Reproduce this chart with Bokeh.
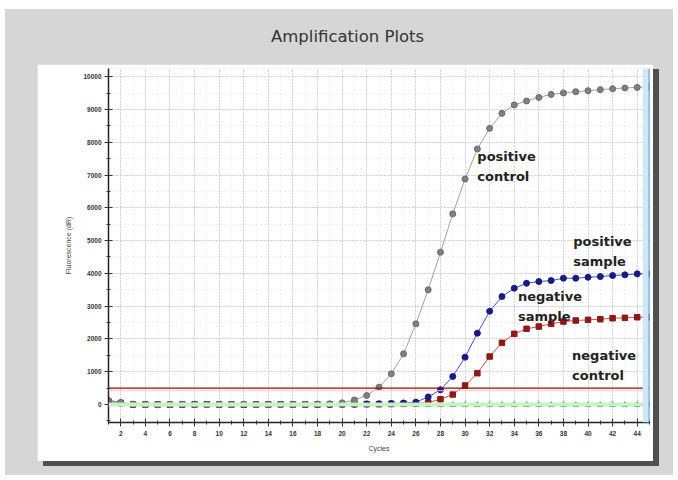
from bokeh.plotting import figure
from bokeh.models import Range1d, SingleIntervalTicker, Span, Label, Div
from bokeh.layouts import column
from bokeh.embed import file_html
from bokeh.resources import INLINE

cycles = list(range(1, 46))
positive_control = [120, 60, 10, 0, -5, 0, 5, 0, -5, 0, 0, 5, 0, -5, 0, 0, 5, 10, 20, 50,
                    137, 274, 527, 936, 1545, 2460, 3497, 4644, 5815, 6881, 7795, 8424, 8881,
                    9137, 9259, 9369, 9460, 9503, 9543, 9573, 9604, 9634, 9655, 9674, 9704]
positive_sample = [100, 50, 0, 0, -5, 0, 0, 5, 0, -5, 0, 0, 5, 0, 0, -5, 0, 5, 0, 10,
                   10, 15, 20, 30, 45, 70, 230, 448, 854, 1442, 2174, 2845, 3293,
                   3546, 3698, 3750, 3780, 3851, 3851, 3881, 3902, 3933, 3954, 3985, 3985]
negative_sample = [90, 40, 0, 0, 0, -5, 0, 0, 5, 0, 0, -5, 0, 0, 5, 0, 0, 0, 5, 5,
                   5, 10, 10, 15, 20, 30, 60, 160, 305, 579, 954, 1463, 1881,
                   2155, 2308, 2378, 2460, 2530, 2561, 2582, 2601, 2631, 2643, 2662, 2662]
negative_control = [150, 40, 0, -5, -5, -10, -5, -10, -5, -10, -10, -5, -10, -10, -5, -10, -10, -10, -5, -10,
                    -10, -10, -10, -10, -10, -10, -15, -15, -15, -15, -15, -15, -15,
                    -15, -15, -15, -15, -15, -15, -15, -15, -15, -15, -15, -15]
threshold = 500
x_ticks_interval = 2
y_ticks_interval = 1000
title_text = "Amplification Plots"

GRAY = "#d6d6d6"
SHADOW = "#505050"

p = figure(width=616, height=397, output_backend="svg", toolbar_location=None,
           x_range=Range1d(1, 45), y_range=Range1d(-550, 10250),
           min_border_left=71, min_border_right=4, min_border_top=4, min_border_bottom=39,
           margin=(0, 0, 0, 32), styles={"box-shadow": "6px 5px 0px 0px " + SHADOW})
p.border_fill_color = "white"
p.background_fill_color = "white"
p.outline_line_color = None

# axes
p.xaxis.ticker = SingleIntervalTicker(interval=x_ticks_interval, num_minor_ticks=2)
p.yaxis.ticker = SingleIntervalTicker(interval=y_ticks_interval, num_minor_ticks=2)
for ax in (p.xaxis[0], p.yaxis[0]):
    ax.axis_line_color = "#222222"
    ax.axis_line_width = 1.5
    ax.major_tick_in = 4
    ax.major_tick_out = 4
    ax.minor_tick_in = 2
    ax.minor_tick_out = 2
    ax.major_tick_line_color = "#333333"
    ax.minor_tick_line_color = "#333333"
    ax.major_label_text_font = "Liberation Sans"
    ax.major_label_text_font_size = "6.5px"
    ax.major_label_text_font_style = "bold"
    ax.major_label_text_color = "#333333"
    ax.axis_label_text_font = "Liberation Sans"
    ax.axis_label_text_font_size = "7px"
    ax.axis_label_text_font_style = "normal"
    ax.axis_label_text_color = "#444444"
p.xaxis.axis_label = "Cycles"
p.yaxis.axis_label = "Fluorescence (dR)"
p.xaxis.major_label_standoff = 4
p.yaxis.major_label_standoff = 3
p.xaxis.axis_label_standoff = 6
p.yaxis.axis_label_standoff = 8

p.xgrid.grid_line_color = "#b5b5b5"
p.xgrid.grid_line_dash = "1 2"
p.ygrid.grid_line_color = "#b5b5b5"
p.ygrid.grid_line_dash = "1 2"
p.xgrid.minor_grid_line_color = "#e0e0e0"
p.xgrid.minor_grid_line_dash = "1 3"
p.ygrid.minor_grid_line_color = "#e0e0e0"
p.ygrid.minor_grid_line_dash = "1 3"

# reference lines
p.add_layout(Span(location=0, dimension="width", line_color="#c6f2c6", line_width=4))
p.add_layout(Span(location=420, dimension="width", line_color="#f5c8c8", line_width=1))
p.add_layout(Span(location=threshold, dimension="width", line_color="#8b1010", line_width=1.3))
p.add_layout(Span(location=44.7, dimension="height", line_color="#cfe8f8", line_width=6))
p.add_layout(Span(location=45, dimension="height", line_color="#3a8fd8", line_width=1.8))

# series
p.line(cycles, negative_control, line_color="#44cc44", line_width=1)
p.scatter(cycles, negative_control, marker="triangle", size=5.5, fill_color="#2e8b2e", line_color="#2e8b2e")
p.line(cycles, negative_sample, line_color="#e04a4a", line_width=1)
p.scatter(cycles, negative_sample, marker="square", size=5.5, fill_color="#8b1a1a", line_color="#8b1a1a")
p.line(cycles, positive_sample, line_color="#4a4ae0", line_width=1)
p.scatter(cycles, positive_sample, marker="circle", size=6, fill_color="#1a1a80", line_color="#1a1a80")
p.line(cycles, positive_control, line_color="#a0a0a0", line_width=1)
p.scatter(cycles, positive_control, marker="circle", size=6, fill_color="#808080", line_color="#6a6a6a")

# annotation labels
lab = dict(text_font="DejaVu Sans", text_font_size="13px", text_font_style="bold",
           text_color="#222222", text_baseline="middle", text_align="left")
for x, y, t in [(31.0, 7561, "positive"), (31.0, 6951, "control"),
                (38.8, 4970, "positive"), (38.8, 4360, "sample"),
                (34.3, 3293, "negative"), (34.3, 2683, "sample"),
                (38.7, 1494, "negative"), (38.7, 884, "control")]:
    p.add_layout(Label(x=x, y=y, text=t, **lab))

title = Div(text=title_text, width=668, height=55, margin=0,
            styles={"font-family": "DejaVu Sans", "font-size": "16.5px", "color": "#333333",
                    "padding-left": "266px", "padding-top": "16px", "box-sizing": "border-box",
                    "white-space": "nowrap"})

layout = column(title, p, width=668, height=466, margin=(9, 0, 0, 5), spacing=0,
                styles={"background-color": GRAY})

open("out.html", "w").write(file_html(layout, INLINE))
